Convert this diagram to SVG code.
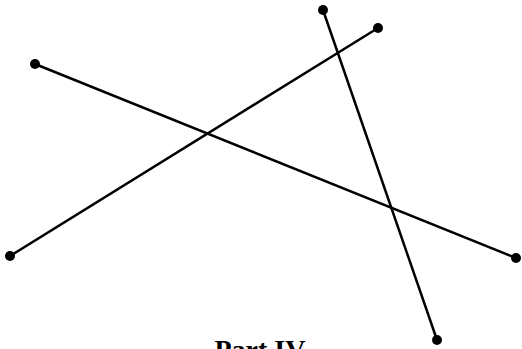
<svg xmlns="http://www.w3.org/2000/svg" width="522" height="349" viewBox="0 0 522 349">
<style>
.ln{stroke:#000;stroke-width:2.5;fill:none;stroke-linecap:round}
.pt{fill:#000}
.lbl{font-family:"Liberation Serif",serif;font-weight:bold;font-size:28px;fill:#000}
</style>
<rect width="522" height="349" fill="#fff"/>
<g id="connectors">
<line class="ln" x1="35" y1="64" x2="516" y2="258"/>
<line class="ln" x1="10" y1="256" x2="378" y2="28"/>
<line class="ln" x1="323" y1="10" x2="437" y2="340"/>
</g>
<g id="points">
<circle class="pt" cx="35" cy="64" r="5"/>
<circle class="pt" cx="516" cy="258" r="5"/>
<circle class="pt" cx="10" cy="256" r="5"/>
<circle class="pt" cx="378" cy="28" r="5"/>
<circle class="pt" cx="323" cy="10" r="5"/>
<circle class="pt" cx="437" cy="340" r="5"/>
</g>
<g id="label">
<text class="lbl" x="260" y="359" text-anchor="middle">Part IV</text>
</g>
</svg>
